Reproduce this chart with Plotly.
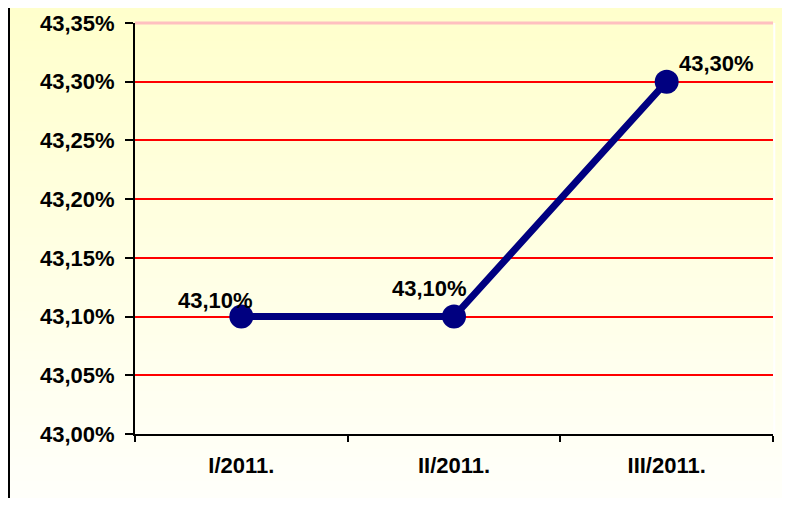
import plotly.graph_objects as go

# 数据
quarters = ["I/2011.", "II/2011.", "III/2011."]
rates = [43.10, 43.10, 43.30]
y_ticks = [43.00, 43.05, 43.10, 43.15, 43.20, 43.25, 43.30, 43.35]

FONT = "Liberation Sans, Arial, sans-serif"
NAVY = "#000080"


def fmt_pct(v):
    return f"{v:.2f}%".replace(".", ",")


# 页面 body 有 8px 边距: 图缩小到 774x490, 正好填满窗口
OFF = 8
W, H = 790 - 2 * OFF, 506 - 2 * OFF
L, T = 135 - OFF, 23 - OFF
R, B = W - (773 - OFF), H - (434 - OFF)
PW, PH = W - L - R, H - T - B

fig = go.Figure()

fig.add_trace(go.Scatter(
    x=quarters,
    y=rates,
    mode="lines+markers",
    line=dict(color=NAVY, width=7),
    marker=dict(color=NAVY, size=24),
    cliponaxis=False,
    showlegend=False,
    hoverinfo="skip",
))

# 数据标签 (Excel 风格位置)
shifts = [(-26, 16), (-25, 28), (50, 18)]
for q, v, (dx, dy) in zip(quarters, rates, shifts):
    fig.add_annotation(
        x=q, y=v, text=fmt_pct(v), showarrow=False,
        xshift=dx, yshift=dy,
        font=dict(family=FONT, size=22, color="black", weight="bold"),
    )

# 背景渐变: 上黄下白
n_bands = 60
top_rgb = (255, 255, 204)
bot_rgb = (255, 255, 250)
for i in range(n_bands):
    p0 = H * i / n_bands
    p1 = H * (i + 1) / n_bands + 1
    t = i / (n_bands - 1)
    c = tuple(round(a + (b - a) * t) for a, b in zip(top_rgb, bot_rgb))
    fig.add_shape(
        type="rect", xref="paper", yref="paper",
        x0=-0.3, x1=1.1,
        y0=(T + PH - p1) / PH, y1=(T + PH - p0) / PH,
        fillcolor=f"rgb{c}", line=dict(width=0), layer="below",
    )

# 左侧边框线
bx = (1 - L) / PW
fig.add_shape(type="line", xref="paper", yref="paper",
              x0=bx, x1=bx, y0=-0.3, y1=1.1,
              line=dict(color="black", width=2))
# 绘图区顶部淡红线 / 右侧白线
fig.add_shape(type="line", xref="paper", yref="paper",
              x0=0, x1=1, y0=1, y1=1,
              line=dict(color="#FFC0C0", width=3), layer="below")
fig.add_shape(type="line", xref="paper", yref="paper",
              x0=1.002, x1=1.002, y0=0, y1=1,
              line=dict(color="white", width=2))

tick_font = dict(family=FONT, size=22, color="black", weight="bold")

fig.update_layout(
    width=W, height=H,
    margin=dict(l=L, r=R, t=T, b=B, autoexpand=False),
    paper_bgcolor="white",
    plot_bgcolor="rgba(0,0,0,0)",
    font=dict(family=FONT, size=20, color="black"),
    xaxis=dict(
        type="category",
        range=[-0.5, 2.5],
        automargin=False,
        showgrid=False,
        showline=True, linecolor="black", linewidth=2,
        ticks="outside", tickson="boundaries", ticklen=6,
        tickcolor="black", tickwidth=2,
        tickfont=tick_font,
        ticklabelstandoff=11,
    ),
    yaxis=dict(
        range=[43.0, 43.35],
        automargin=False,
        tickvals=y_ticks,
        ticktext=[fmt_pct(v) for v in y_ticks],
        showgrid=True, gridcolor="#FF0000", gridwidth=2,
        zeroline=False,
        showline=True, linecolor="black", linewidth=2,
        ticks="outside", ticklen=8, tickcolor="black", tickwidth=2,
        tickfont=tick_font,
        ticklabelstandoff=6,
    ),
)

fig.write_html("out.html")
